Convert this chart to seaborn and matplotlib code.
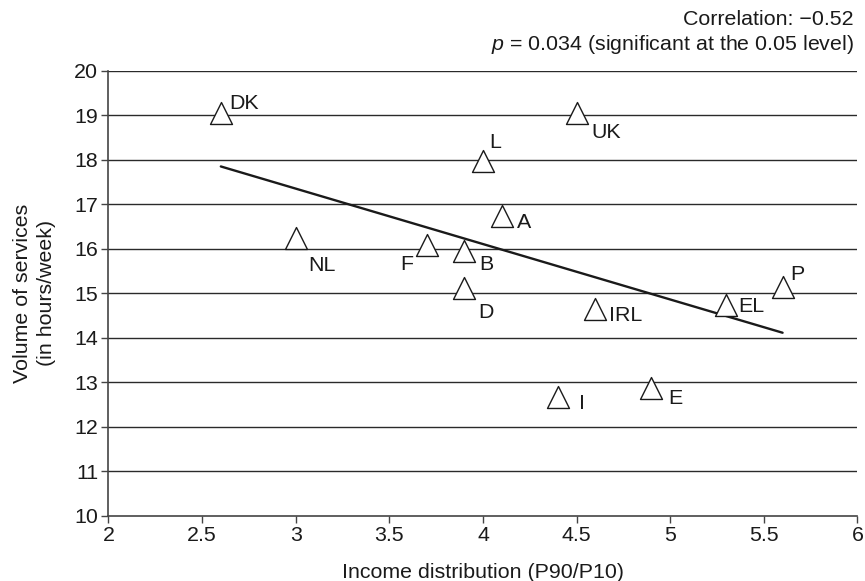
import matplotlib
matplotlib.use("Agg")
import matplotlib.pyplot as plt
import seaborn as sns
import pandas as pd
from matplotlib.ticker import FormatStrFormatter

# ---- data ----
countries = ["DK", "UK", "L", "A", "NL", "F", "B", "D", "IRL", "I", "E", "EL", "P"]
income_p90_p10 = [2.6, 4.5, 4.0, 4.1, 3.0, 3.7, 3.9, 3.9, 4.6, 4.4, 4.9, 5.3, 5.6]
service_hours = [19.06, 19.06, 17.97, 16.73, 16.24, 16.09, 15.95, 15.11, 14.64, 12.67, 12.88, 14.74, 15.14]
x_ticks = [2, 2.5, 3, 3.5, 4, 4.5, 5, 5.5, 6]
y_ticks = [10, 11, 12, 13, 14, 15, 16, 17, 18, 19, 20]
corr_text = "Correlation: \u22120.52"
p_text = r"$p$ = 0.034 (significant at the 0.05 level)"
x_label = "Income distribution (P90/P10)"
y_label = "Volume of services\n(in hours/week)"

# label placement (offset in pixels, horizontal alignment)
label_layout = {
    "DK": (8, 4, "left"), "UK": (15, -25, "left"), "L": (6, 13, "left"),
    "A": (15, -12, "left"), "NL": (13, -33, "left"), "F": (-14, -25, "right"),
    "B": (15, -19, "left"), "D": (14, -30, "left"), "IRL": (14, -12, "left"),
    "I": (21, -12, "left"), "E": (17, -16, "left"), "EL": (12, -7, "left"),
    "P": (8, 7, "left"),
}

df = pd.DataFrame({"country": countries, "x": income_p90_p10, "y": service_hours})

sns.set_style("white")
plt.rcParams["font.family"] = ["Liberation Sans", "DejaVu Sans"]
plt.rcParams["mathtext.fontset"] = "custom"
plt.rcParams["mathtext.rm"] = "Liberation Sans"
plt.rcParams["mathtext.it"] = "Liberation Sans:italic"

FS = 15.4
TXT = "#1a1a1a"
fig = plt.figure(figsize=(8.65, 5.81), dpi=100)
ax = fig.add_axes([0.1254, 0.1119, 0.8659, 0.7664])

for yv in y_ticks[1:]:
    ax.axhline(yv, color="#2a2a2a", lw=1.0, zorder=1)

sns.regplot(data=df, x="x", y="y", scatter=False, ci=None, ax=ax,
            line_kws=dict(color=TXT, lw=1.7, zorder=2))
sns.scatterplot(data=df, x="x", y="y", marker="^", s=250, facecolor="white",
                edgecolor=TXT, linewidth=1.0, ax=ax, zorder=3)

for c, xv, yv in zip(countries, income_p90_p10, service_hours):
    dx, dy, ha = label_layout[c]
    ax.annotate(c, (xv, yv), xytext=(dx, dy), textcoords="offset pixels",
                ha=ha, va="baseline", fontsize=FS, color=TXT, zorder=4)

ax.set_xlim(2, 6)
ax.set_ylim(10, 20)
ax.set_xticks(x_ticks)
ax.set_yticks(y_ticks)
ax.xaxis.set_major_formatter(FormatStrFormatter("%g"))
ax.set_xlabel(x_label, fontsize=FS, color=TXT, labelpad=13)
ax.set_ylabel(y_label, fontsize=FS, color=TXT, labelpad=13, linespacing=1.3)

for s in ["top", "right"]:
    ax.spines[s].set_visible(False)
for s in ["left", "bottom"]:
    ax.spines[s].set_color("#444444")
    ax.spines[s].set_linewidth(1.2)
ax.tick_params(axis="both", direction="out", length=5, width=1.0, color="#444444",
               labelsize=FS, labelcolor=TXT, pad=2.5, left=True, bottom=True)

fig.text(854 / 865, 1 - 25 / 581, corr_text, ha="right", va="baseline",
         fontsize=FS, color=TXT)
fig.text(854 / 865, 1 - 50 / 581, p_text, ha="right", va="baseline",
         fontsize=FS, color=TXT)

fig.savefig("out.png", dpi=100)
